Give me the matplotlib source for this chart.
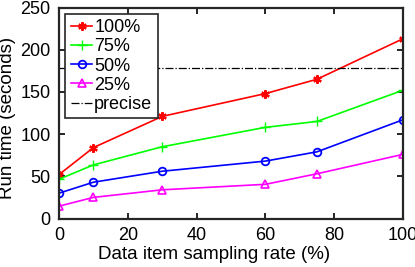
import matplotlib
matplotlib.use("Agg")
import matplotlib.pyplot as plt

plt.rcParams["font.family"] = ["Liberation Sans", "DejaVu Sans"]

rate = [0, 10, 30, 60, 75, 100]
run_100 = [52, 84, 121, 148, 165, 213]
run_75 = [46.5, 63.5, 85, 108, 115, 152]
run_50 = [30, 43, 56, 68, 79, 117]
run_25 = [14.6, 25, 34, 40.5, 53, 76]
precise = 178.5

fig = plt.figure(figsize=(4.15, 2.67), dpi=100)
ax = fig.add_axes([59 / 415, 1 - 218.5 / 267, 344 / 415, 211 / 267])

ax.plot(rate, run_100, color="red", marker=(6, 2, 0), markersize=6, mew=1.6, lw=1.2, label="100%")
ax.plot(rate, run_75, color=(0, 1, 0), marker="+", markersize=7, lw=1.2, label="75%")
ax.plot(rate, run_50, color="blue", marker="o", markersize=5.5, mfc="none", mew=1.3, lw=1.2, label="50%")
ax.plot(rate, run_25, color="magenta", marker="^", markersize=6, mfc="none", mew=1.2, lw=1.2, label="25%")
ax.plot([0, 100], [precise, precise], color="black", ls="-.", lw=0.9, label="precise")

ax.set_xlim(0, 100)
ax.set_ylim(0, 250)
ax.set_xticks([0, 20, 40, 60, 80, 100])
ax.set_yticks([0, 50, 100, 150, 200, 250])
ax.tick_params(direction="in", top=True, right=True, labelsize=13, length=4, width=1.2, pad=6)
for s in ax.spines.values():
    s.set_linewidth(1.6)
    s.set_color("#262626")
ax.set_xlabel("Data item sampling rate (%)", fontsize=13.5, va="top")
ax.xaxis.set_label_coords(155 / 344, (218.5 - 246) / 211)
ax.set_ylabel("Run time (seconds)", fontsize=13.5)
ax.yaxis.set_label_coords((16 - 59) / 344, (218.5 - 118) / 211)

leg = ax.legend(loc="upper left", fontsize=13, handlelength=1.2, handletextpad=0.1,
                labelspacing=0.12, borderpad=0.3, borderaxespad=0.35,
                fancybox=False, framealpha=1)
leg.get_frame().set_edgecolor("#262626")
leg.get_frame().set_linewidth(1.2)

fig.savefig("out.png", dpi=100)
